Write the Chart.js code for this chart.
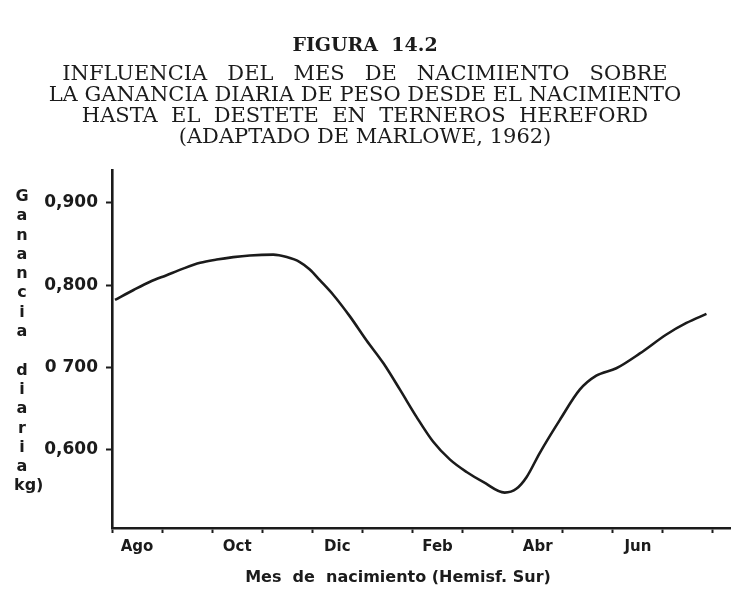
<!DOCTYPE html>
<html>
<head>
<meta charset="utf-8">
<script src="https://cdn.jsdelivr.net/npm/chart.js@4.4.1/dist/chart.umd.min.js"></script>
<style>
  html, body { margin: 0; padding: 0; background: #fff; }
  #wrap { width: 753px; height: 600px; position: relative; }
</style>
</head>
<body>
<div id="wrap"><canvas id="myChart"></canvas></div>
<script>
// month position, counted from the start of August (0 = 1 Ago, 12 = 1 Ago next year)
const monthPos = [0.06, 0.43, 0.76, 1.09, 1.42, 1.76, 2.09, 2.42, 2.75, 3.22, 3.49, 3.75, 3.95, 4.15,
  4.42, 4.75, 5.08, 5.42, 5.75, 6.08, 6.41, 6.75, 7.08, 7.41, 7.84, 8.08, 8.28, 8.54, 8.94, 9.34,
  9.67, 10.07, 10.54, 11.07, 11.47, 11.87];
// ganancia diaria (kg)
const gain = [0.782, 0.794, 0.804, 0.812, 0.820, 0.827, 0.831, 0.834, 0.836, 0.837, 0.834, 0.828, 0.819, 0.806,
  0.788, 0.762, 0.733, 0.705, 0.673, 0.640, 0.610, 0.588, 0.573, 0.561, 0.548, 0.553, 0.567, 0.596, 0.636, 0.673,
  0.690, 0.699, 0.717, 0.740, 0.754, 0.765];

const monthTicks = [0, 1, 2, 3, 4, 5, 6, 7, 8, 9, 10, 11, 12];
const xLabelPos = [0.5, 2.5, 4.5, 6.5, 8.5, 10.5];
const xLabels = ["Ago", "Oct", "Dic", "Feb", "Abr", "Jun"];
const yTicks = [0.6, 0.7, 0.8, 0.9];
const yTickLabels = ["0,600", "0 700", "0,800", "0,900"];

const yTitleLetters = ["G", "a", "n", "a", "n", "c", "i", "a", "", "d", "i", "a", "r", "i", "a", "kg)"];
const xTitle = "Mes  de  nacimiento (Hemisf. Sur)";

const ink = "#1b1b1b";
const sansBold = { family: "'DejaVu Sans', sans-serif", weight: "bold" };

// stacked y title and x title, drawn as in the printed figure
const axisTitles = {
  id: "axisTitles",
  afterDraw(chart) {
    const { ctx, chartArea } = chart;
    ctx.save();
    ctx.fillStyle = ink;
    ctx.font = "bold 16px 'DejaVu Sans', sans-serif";
    ctx.textBaseline = "middle";
    yTitleLetters.forEach((ch, i) => {
      const y = chartArea.top + 27 + i * 19.3;
      if (ch.length > 1) {
        ctx.textAlign = "left";
        ctx.fillText(ch, 14, y);
      } else {
        ctx.textAlign = "center";
        ctx.fillText(ch, 22, y);
      }
    });
    ctx.textAlign = "center";
    ctx.fillText(xTitle, 398, 578);
    ctx.restore();
  },
};

const data = {
  datasets: [
    {
      label: "Ganancia diaria",
      data: monthPos.map((m, i) => ({ x: m, y: gain[i] })),
      borderColor: ink,
      borderWidth: 2.6,
      pointRadius: 0,
      cubicInterpolationMode: "monotone",
      fill: false,
    },
  ],
};

const config = {
  type: "line",
  data: data,
  options: {
    responsive: true,
    maintainAspectRatio: false,
    animation: false,
    layout: {
      padding: { top: 35, right: 23, bottom: 0, left: 0 },
    },
    plugins: {
      legend: { display: false },
      tooltip: { enabled: false },
      title: {
        display: true,
        text: "FIGURA  14.2",
        color: ink,
        font: { family: "'DejaVu Serif', serif", size: 19, weight: "bold", lineHeight: 1.2 },
        padding: { top: 0, bottom: 6 },
      },
      subtitle: {
        display: true,
        text: [
          "INFLUENCIA   DEL   MES   DE   NACIMIENTO   SOBRE",
          "LA GANANCIA DIARIA DE PESO DESDE EL NACIMIENTO",
          "HASTA  EL  DESTETE  EN  TERNEROS  HEREFORD",
          "(ADAPTADO DE MARLOWE, 1962)",
        ],
        color: ink,
        font: { family: "'DejaVu Serif', serif", size: 21, lineHeight: 1.0 },
        padding: { top: 0, bottom: 22 },
      },
    },
    scales: {
      x: {
        type: "linear",
        min: 0,
        max: 12.34,
        afterBuildTicks: (axis) => {
          axis.ticks = monthTicks.concat(xLabelPos).sort((a, b) => a - b).map((v) => ({ value: v }));
        },
        afterFit: (axis) => {
          axis.height = 72;
        },
        border: { display: true, color: ink, width: 2.6 },
        grid: {
          drawOnChartArea: false,
          drawTicks: true,
          tickLength: 5,
          tickWidth: 2,
          tickColor: (ctx) => (ctx.tick && Number.isInteger(ctx.tick.value) ? ink : "rgba(0,0,0,0)"),
        },
        ticks: {
          autoSkip: false,
          maxRotation: 0,
          padding: 5,
          color: ink,
          font: { ...sansBold, size: 15 },
          callback: (value) => {
            const i = xLabelPos.indexOf(value);
            return i >= 0 ? xLabels[i] : "";
          },
        },
      },
      y: {
        min: 0.505,
        max: 0.94,
        afterBuildTicks: (axis) => {
          axis.ticks = yTicks.map((v) => ({ value: v }));
        },
        afterFit: (axis) => {
          axis.width = 112;
        },
        border: { display: true, color: ink, width: 2.6 },
        grid: {
          drawOnChartArea: false,
          drawTicks: true,
          tickLength: 6,
          tickWidth: 2,
          tickColor: ink,
        },
        ticks: {
          padding: 8,
          color: ink,
          font: { ...sansBold, size: 17 },
          callback: (value) => {
            const i = yTicks.indexOf(value);
            return i >= 0 ? yTickLabels[i] : "";
          },
        },
      },
    },
  },
  plugins: [axisTitles],
};

const myChart = new Chart(document.getElementById("myChart"), config);
</script>
</body>
</html>
